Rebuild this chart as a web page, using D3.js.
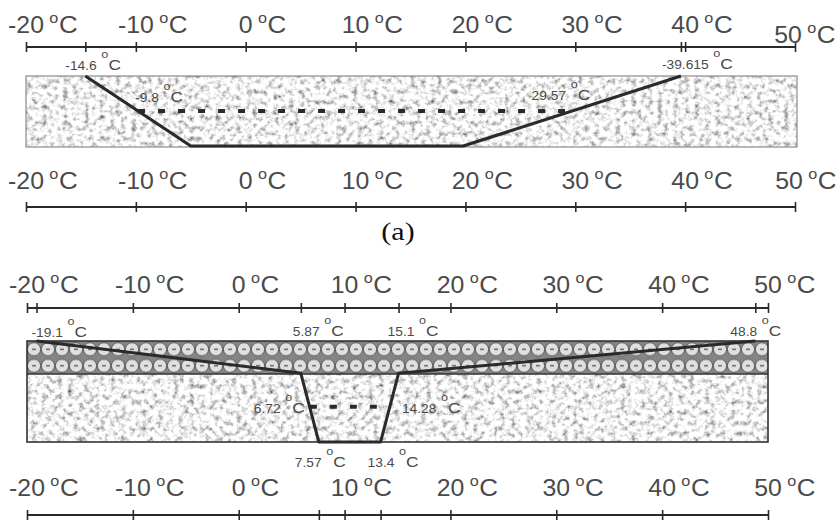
<!DOCTYPE html>
<html>
<head>
<meta charset="utf-8">
<script src="https://cdn.jsdelivr.net/npm/d3@7"></script>
<style>
  html, body { margin: 0; padding: 0; background: #fff; }
  svg { display: block; font-family: "Liberation Sans", Arial, sans-serif; }
</style>
</head>
<body>
<svg id="chart" width="840" height="521"></svg>
<script>
// temperature axis ticks (same on all four rulers)
const tempTicks = [-20, -10, 0, 10, 20, 30, 40, 50];

// extra marks on the rulers
const aTopMarks = [-14.6, 39.615];
const bTopMarks = [-19.1, 5.87, 15.1, 48.8];
const bBottomMarks = [7.57, 13.4];

// temperature profiles: t = temperature, d = depth fraction of the slab
const profileA = [{t: -14.6, d: 0}, {t: -5, d: 1}, {t: 19.8, d: 1}, {t: 39.615, d: 0}];
const dashA = [{t: -9.8, d: 0.5}, {t: 29.57, d: 0.5}];
const profileB = [{t: -19.1, d: 0}, {t: 5.87, d: 0.32}, {t: 7.57, d: 1}, {t: 13.4, d: 1}, {t: 15.1, d: 0.32}, {t: 48.8, d: 0}];
const dashB = [{t: 6.72, d: 0.65}, {t: 14.28, d: 0.65}];
const layerB = 0.327;

// small annotations
const notesA = [
    {t: -14.6, text: "-14.6"},
    {t: -9.8, text: "-9.8"},
    {t: 29.57, text: "29.57"},
    {t: 39.615, text: "-39.615"}
];
const notesB = [
    {t: -19.1, text: "-19.1"},
    {t: 5.87, text: "5.87"},
    {t: 15.1, text: "15.1"},
    {t: 48.8, text: "48.8"},
    {t: 6.72, text: "6.72"},
    {t: 14.28, text: "14.28"},
    {t: 7.57, text: "7.57"},
    {t: 13.4, text: "13.4"}
];

const svg = d3.select("#chart");
const ink = "#2a2a2a";
const textInk = "#4a4a4a";

const xA = d3.scaleLinear().domain([-20, 50]).range([26, 795]);
const xB = d3.scaleLinear().domain([-20, 50]).range([27, 768]);
const yA = d3.scaleLinear().domain([0, 1]).range([76, 146]);
const yB = d3.scaleLinear().domain([0, 1]).range([341, 442]);

// ---- defs: speckle texture and pebble pattern
const defs = svg.append("defs");
const f = defs.append("filter").attr("id", "speckle")
    .attr("x", 0).attr("y", 0).attr("width", 1).attr("height", 1);
f.append("feTurbulence").attr("type", "fractalNoise").attr("baseFrequency", 0.19)
    .attr("numOctaves", 4).attr("seed", 11).attr("result", "noise");
f.append("feColorMatrix").attr("in", "noise").attr("type", "matrix")
    .attr("values", "1 0 0 0 0  1 0 0 0 0  1 0 0 0 0  0 0 0 0 1").attr("result", "gray");
const ct = f.append("feComponentTransfer").attr("in", "gray");
["feFuncR", "feFuncG", "feFuncB"].forEach(fn => {
    ct.append(fn).attr("type", "linear").attr("slope", 1.9).attr("intercept", -0.06);
});

const ph = (yB(layerB) - yB(0)) / 2;
const pat = defs.append("pattern").attr("id", "pebbles")
    .attr("patternUnits", "userSpaceOnUse")
    .attr("x", xB(-20)).attr("y", yB(0))
    .attr("width", 14).attr("height", ph);
pat.append("rect").attr("width", 14).attr("height", ph).attr("fill", "#858585");
pat.append("circle").attr("cx", 7).attr("cy", ph / 2).attr("r", 6.6)
    .attr("fill", "#e0e0e0").attr("stroke", "#505050").attr("stroke-width", 0.9);
pat.append("line").attr("x1", 5).attr("x2", 9).attr("y1", ph / 2).attr("y2", ph / 2)
    .attr("stroke", "#555").attr("stroke-width", 1.3);

// ---- rulers
const drawRuler = (x, y, marks) => {
    const g = svg.append("g").attr("transform", `translate(0,${y - 5})`);
    g.call(d3.axisBottom(x).tickValues(marks).tickSize(10).tickFormat(""));
    g.select(".domain").remove();
    g.selectAll(".tick line").attr("stroke", ink).attr("stroke-width", 1.6);
    svg.append("line")
        .attr("x1", x(-20)).attr("x2", x(50)).attr("y1", y).attr("y2", y)
        .attr("stroke", ink).attr("stroke-width", 2.2);
};

const degLabel = (x, y, num, o) => {
    const grp = svg.append("g").attr("transform", `translate(${x},${y}) scale(${o.sx},1)`);
    const t = grp.append("text").attr("fill", textInk);
    const n = t.append("tspan").attr("font-size", o.fs).text(num);
    t.append("tspan").attr("font-size", o.oSize).attr("dx", o.gap).attr("dy", -o.raise).text("o");
    t.append("tspan").attr("font-size", o.cSize).attr("dx", o.cGap).attr("dy", o.raise).text("C");
    if (o.center) {
        const w = n.node().getComputedTextLength();
        t.attr("x", -w / 2);
    }
};

const bigOpts = {sx: 1.08, fs: 23, oSize: 15, raise: 10, cSize: 24, gap: 5, cGap: 0.5, center: true};
const smallOpts = {sx: 1.15, fs: 12, oSize: 11, raise: 12, cSize: 15, gap: 4, cGap: 0, center: false};

const rulers = [
    {x: xA, y: 47, labelY: 33, marks: tempTicks.concat(aTopMarks)},
    {x: xA, y: 207, labelY: 189, marks: tempTicks},
    {x: xB, y: 308, labelY: 293, marks: tempTicks.concat(bTopMarks)},
    {x: xB, y: 515, labelY: 496, marks: tempTicks.concat(bBottomMarks)}
];

rulers.forEach((r, i) => {
    drawRuler(r.x, r.y, r.marks);
    tempTicks.forEach(v => {
        // the 50 labels of panel (a) sit a bit left; the top one also lower
        let dx = 0, dy = 0;
        if (i === 0 && v === 50) { dx = -7; dy = 10; }
        if (i === 1 && v === 50) { dx = -6; }
        degLabel(r.x(v) + dx, r.labelY + dy, String(v), bigOpts);
    });
});

// ---- panel (a) slab
svg.append("rect")
    .attr("x", xA(-20)).attr("y", yA(0))
    .attr("width", xA(50) - xA(-20) + 2).attr("height", yA(1) - yA(0) + 1)
    .attr("fill", "#ddd").attr("filter", "url(#speckle)");
svg.append("rect")
    .attr("x", xA(-20)).attr("y", yA(0))
    .attr("width", xA(50) - xA(-20) + 2).attr("height", yA(1) - yA(0) + 1)
    .attr("fill", "none").attr("stroke", "#8a8a8a").attr("stroke-width", 1.2);

const lineA = d3.line().x(d => xA(d.t)).y(d => yA(d.d));
svg.append("path").datum(profileA).attr("d", lineA)
    .attr("fill", "none").attr("stroke", ink).attr("stroke-width", 3.2)
    .attr("stroke-linejoin", "round");
svg.append("path").datum(dashA).attr("d", lineA)
    .attr("fill", "none").attr("stroke", ink).attr("stroke-width", 4)
    .attr("stroke-dasharray", "7,13");

// ---- panel (b) slab
svg.append("rect")
    .attr("x", xB(-20)).attr("y", yB(layerB))
    .attr("width", xB(50) - xB(-20)).attr("height", yB(1) - yB(layerB))
    .attr("fill", "#ddd").attr("filter", "url(#speckle)");
svg.append("rect")
    .attr("x", xB(-20)).attr("y", yB(0))
    .attr("width", xB(50) - xB(-20)).attr("height", yB(layerB) - yB(0))
    .attr("fill", "url(#pebbles)");
svg.append("rect")
    .attr("x", xB(-20)).attr("y", yB(0))
    .attr("width", xB(50) - xB(-20)).attr("height", yB(1) - yB(0))
    .attr("fill", "none").attr("stroke", "#333").attr("stroke-width", 1.6);
svg.append("line")
    .attr("x1", xB(-20)).attr("x2", xB(50)).attr("y1", yB(layerB)).attr("y2", yB(layerB))
    .attr("stroke", "#333").attr("stroke-width", 1.6);

const lineB = d3.line().x(d => xB(d.t)).y(d => yB(d.d));
svg.append("path").datum(profileB).attr("d", lineB)
    .attr("fill", "none").attr("stroke", ink).attr("stroke-width", 3)
    .attr("stroke-linejoin", "round");
svg.append("path").datum(dashB).attr("d", lineB)
    .attr("fill", "none").attr("stroke", ink).attr("stroke-width", 4)
    .attr("stroke-dasharray", "7,13");

// ---- small annotations (offsets relative to the marked temperature)
const notePlaceA = [
    {dx: -20, y: 70},
    {dx: -3, y: 102},
    {dx: -39, y: 100},
    {dx: -19, y: 69}
];
const notePlaceB = [
    {dx: -5, y: 337},
    {dx: -8, y: 336},
    {dx: -11, y: 336},
    {dx: -25, y: 336},
    {dx: -56, y: 413},
    {dx: 12, y: 413},
    {dx: -24, y: 467},
    {dx: -13, y: 467}
];
notesA.forEach((n, i) => degLabel(xA(n.t) + notePlaceA[i].dx, notePlaceA[i].y, n.text, smallOpts));
notesB.forEach((n, i) => degLabel(xB(n.t) + notePlaceB[i].dx, notePlaceB[i].y, n.text, smallOpts));

// ---- panel caption
svg.append("text")
    .attr("transform", "translate(398,240) scale(1.2,1)")
    .attr("text-anchor", "middle")
    .attr("font-family", "'Liberation Serif', 'Times New Roman', serif")
    .attr("font-size", 25).attr("fill", "#111")
    .text("(a)");
</script>
</body>
</html>
